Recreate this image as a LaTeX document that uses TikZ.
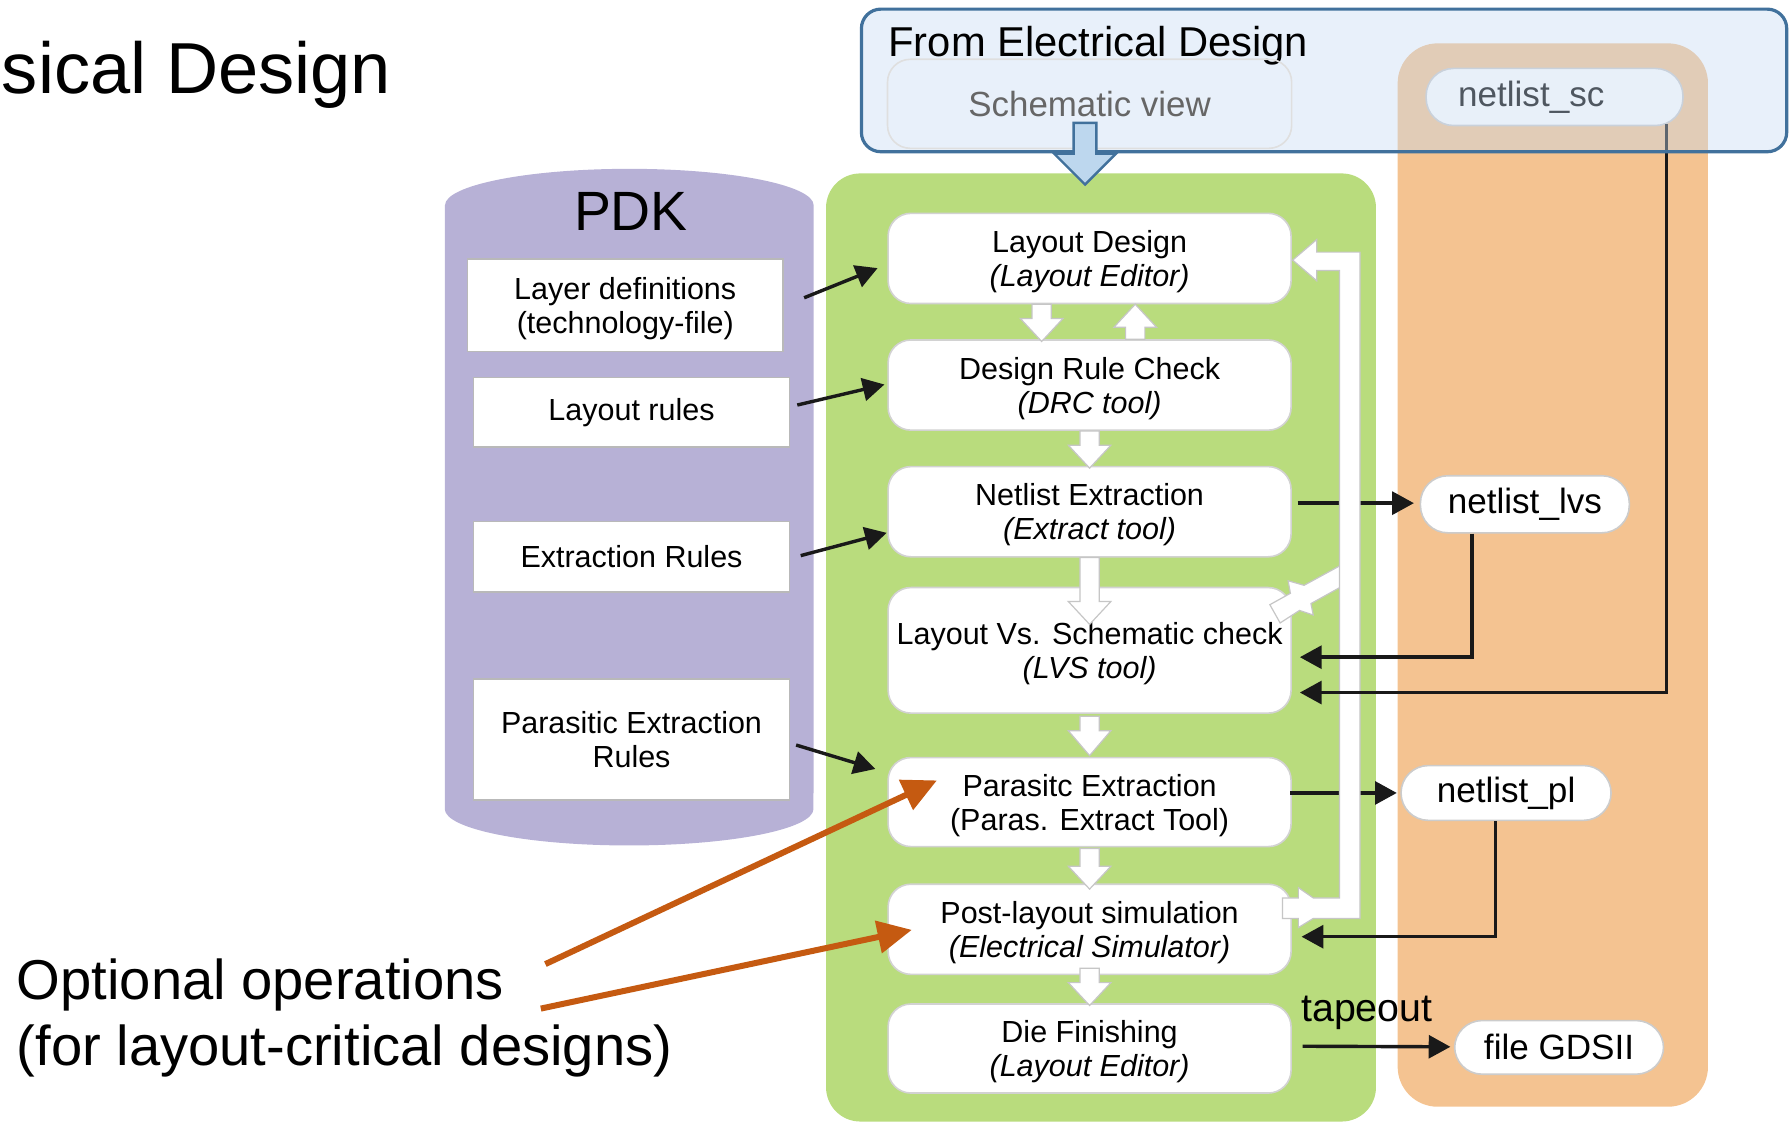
\documentclass[tikz,border=0pt]{standalone}
\usepackage{fontspec}
\setmainfont{Liberation Sans}
\usepackage{xcolor}
\usepackage{tikz}
\usetikzlibrary{arrows.meta, positioning, calc}

\definecolor{flowgreen}{RGB}{185,220,125}
\definecolor{outpeach}{RGB}{244,195,145}
\definecolor{pdkpurple}{RGB}{183,177,214}
\definecolor{elecblue}{RGB}{198,218,242}
\definecolor{elecedge}{RGB}{65,113,156}
\definecolor{arrowblue}{RGB}{189,215,238}
\definecolor{optorange}{RGB}{197,90,17}

\tikzset{
  flowbox/.style={rectangle, rounded corners=0.2cm, draw=gray!35, fill=white,
    minimum width=3.53cm, align=center, inner sep=0pt, text depth=-0.3pt,
    font=\fontsize{7.6}{8.5}\selectfont},
  pdkbox/.style={rectangle, draw=gray!55, fill=white, minimum width=2.77cm,
    align=center, inner sep=0pt, font=\fontsize{7.6}{8.5}\selectfont},
  pill/.style={rectangle, rounded corners=0.24cm, draw=gray!40, fill=white,
    inner sep=0pt, font=\fontsize{8.75}{10}\selectfont},
  blk/.style={-{Triangle[length=0.19cm,width=0.2cm]}, line width=0.85pt, draw=black!90},
  optarrow/.style={-{Triangle[length=0.3cm,width=0.28cm]}, line width=1.5pt, draw=optorange},
  whitearrow/.style={fill=white, draw=gray!45, line width=0.3pt},
}

% white block arrow: start, tip, signed head length
\newcommand{\blockarrow}[3]{%
  \draw[whitearrow] let \p1=(#1), \p2=(#2) in
    (\x2-2.4pt,\y1) -- (\x2-2.4pt,\y2+#3) -- (\x2-5.3pt,\y2+#3) -- (\x2,\y2)
    -- (\x2+5.3pt,\y2+#3) -- (\x2+2.4pt,\y2+#3) -- (\x2+2.4pt,\y1) -- cycle;}

\begin{document}
\begin{tikzpicture}[x=0.01cm, y=-0.01cm]
\useasboundingbox (0,0) rectangle (1568,985);

% columns
\fill[outpeach, rounded corners=0.35cm] (1225,38) rectangle (1497,970);
\fill[flowgreen, rounded corners=0.3cm] (724,152) rectangle (1206,983);
\fill[pdkpurple] (390,180) arc[start angle=180, end angle=0, x radius=1.615cm, y radius=0.32cm]
  -- (713,709) arc[start angle=0, end angle=-180, x radius=1.615cm, y radius=0.32cm] -- cycle;

\node[pill, minimum width=2.25cm, minimum height=0.5cm, text width=1.69cm, align=left] (nsc) at (1362.5,85) {netlist\_sc};

% PDK
\node[font=\fontsize{13.8}{16}\selectfont] (pdktitle) at (553,185) {PDK};
\node[pdkbox, minimum width=2.76cm, minimum height=0.81cm, text depth=0pt] (techfile) at (548,267.5) {Layer definitions\\(technology-file)};
\node[pdkbox, minimum height=0.61cm] (layrules) at (553.5,361.5) {Layout rules};
\node[pdkbox, minimum height=0.62cm] (extrules) at (553.5,488) {Extraction Rules};
\node[pdkbox, minimum height=1.06cm, text depth=-2pt] (parrules) at (553.5,648) {Parasitic Extraction\\Rules};

% flow
\node[flowbox, minimum height=0.79cm] (layout) at (955,226.5) {Layout Design\\\textit{(Layout Editor)}};
\node[flowbox, minimum height=0.79cm] (drc) at (955,337.5) {Design Rule Check\\\textit{(DRC tool)}};
\node[flowbox, minimum height=0.79cm] (netx) at (955,448.5) {Netlist Extraction\\\textit{(Extract tool)}};
\node[flowbox, minimum height=1.10cm] (lvs) at (955,570) {Layout Vs. Schematic check\\\textit{(LVS tool)}};
\node[flowbox, minimum height=0.78cm] (parx) at (955,703) {Parasitc Extraction\\(Paras. Extract Tool)};
\node[flowbox, minimum height=0.79cm] (postsim) at (955,814.5) {Post-layout simulation\\\textit{(Electrical Simulator)}};
\node[flowbox, minimum height=0.78cm] (diefin) at (955,919) {Die Finishing\\\textit{(Layout Editor)}};

\blockarrow{$(layout.south)+(-42,0)$}{$(drc.north)+(-42,2)$}{5.7pt}
\blockarrow{$(drc.north)+(40,0)$}{$(layout.south)+(40,0)$}{-5.7pt}
\blockarrow{drc.south}{$(netx.north)+(0,2)$}{5.7pt}
\blockarrow{netx.south}{$(lvs.north)+(0,33)$}{5.7pt}
\blockarrow{$(lvs.south)+(0,2)$}{$(parx.north)+(0,-1)$}{6.2pt}
\blockarrow{$(parx.south)+(0,1)$}{$(postsim.north)+(0,5)$}{5.7pt}
\blockarrow{$(postsim.south)+(0,-6)$}{$(diefin.north)+(0,2)$}{5.7pt}

% outputs
\node[pill, minimum width=1.83cm, minimum height=0.5cm] (nlvs) at (1336.5,442) {netlist\_lvs};
\node[pill, minimum width=1.84cm, minimum height=0.48cm] (npl) at (1320,695) {netlist\_pl};
\node[pill, minimum width=1.83cm, minimum height=0.47cm] (gds) at (1366.5,918) {file GDSII};

\draw[blk] ($(netx.east)+(5,-7.5)$) -- ($(nlvs.west)+(-5,-1)$);
\draw[blk] ($(parx.east)+(-1.5,-8)$) -- ($(npl.west)+(-3,0)$);

% feedback loop
\draw[whitearrow] (1113,530) -- (1131,520) -- (1129,509) -- (1143,513) -- (1176,495)
  -- (1176,514) -- (1149,529) -- (1151,539) -- (1139,535) -- (1122,546) -- cycle;
\draw[whitearrow] (1124,787) -- (1138,787) -- (1138,778) -- (1151,787) -- (1174,787)
  -- (1174,237) -- (1154,237) -- (1154,246) -- (1133,228) -- (1154,210) -- (1154,221)
  -- (1192,221) -- (1192,805) -- (1151,805) -- (1138,813) -- (1138,805) -- (1124,805) -- cycle;

\draw[blk] ($(nlvs.south)+(-46.5,0)$) |- ($(lvs.east)+(7,6)$);
\draw[blk] ($(nsc.south east)+(-15,-2)$) |- ($(lvs.east)+(7,37)$);
\draw[blk] ($(npl.south)+(-9,0)$) |- ($(postsim.east)+(8.5,6.5)$);
\draw[blk] ($(diefin.east)+(9.5,-2)$) -- ($(gds.west)+(-3,-0.5)$);
\node[font=\fontsize{9.8}{11}\selectfont] (tapeout) at (1198,888) {tapeout};

\draw[blk] ($(techfile.east)+(18,-6.5)$) -- ($(layout.west)+(-8.5,8.5)$);
\draw[blk] ($(layrules.east)+(6,-6.5)$) -- ($(drc.west)+(-2.5,-0.5)$);
\draw[blk] ($(extrules.east)+(9,-1)$) -- ($(netx.west)+(-0.5,18.5)$);
\draw[blk] ($(parrules.east)+(5,5)$) -- ($(parx.west)+(-10.5,-29)$);

% optional
\node[anchor=west, align=left, inner sep=0pt, font=\fontsize{14}{16.5}\selectfont] (opttext) at (14,892)
  {Optional operations\\(for layout-critical designs)};
\draw[optarrow] ($(opttext.west)+(464,-47)$) -- ($(parx.west)+(43.5,-19)$);
\draw[optarrow] ($(opttext.west)+(460,-8)$) -- ($(postsim.west)+(21.5,0.5)$);

\node[anchor=base west, inner sep=0pt, font=\fontsize{18}{22}\selectfont] (title) at (1,82) {sical Design};

% from electrical design
\draw[rounded corners=0.17cm, draw=elecedge, line width=0.8pt, fill=elecblue, fill opacity=0.4] (755,8) rectangle (1566,133);
\node[anchor=west, inner sep=0pt, font=\fontsize{10.4}{12}\selectfont] (fromed) at (778,40) {From Electrical Design};
\node[rectangle, rounded corners=0.2cm, draw=gray!25, minimum width=3.54cm, minimum height=0.78cm,
  text=black!60, font=\fontsize{8.7}{10}\selectfont] (schview) at (955,91) {Schematic view};
\begin{scope}[shift={(schview.south)}]
  \draw[fill=arrowblue, draw=elecedge, line width=0.6pt] (-14,-23) -- (-14,4) -- (-31,4) -- (-4,31)
    -- (23,4) -- (6,4) -- (6,-23) -- cycle;
\end{scope}
\end{tikzpicture}
\end{document}
